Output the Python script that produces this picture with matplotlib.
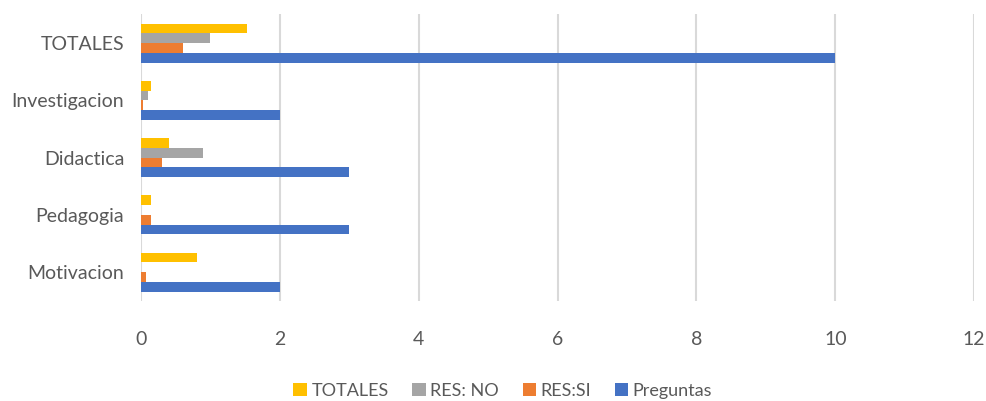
import numpy as np
import matplotlib
matplotlib.use("Agg")
import matplotlib.pyplot as plt

categories = ["Motivacion", "Pedagogia", "Didactica", "Investigacion", "TOTALES"]
preguntas = [2, 3, 3, 2, 10]
res_si = [0.07, 0.15, 0.3, 0.03, 0.6]
res_no = [0, 0, 0.9, 0.1, 1.0]
totales = [0.8, 0.15, 0.4, 0.15, 1.52]

series = [
    ("Preguntas", preguntas, "#4472C4"),
    ("RES:SI", res_si, "#ED7D31"),
    ("RES: NO", res_no, "#A5A5A5"),
    ("TOTALES", totales, "#FFC000"),
]

plt.rcParams["font.family"] = ["Lato", "DejaVu Sans"]
text_color = "#595959"

fig = plt.figure(figsize=(9.86, 4.01), dpi=100)
ax = fig.add_axes([0.143, 0.25, 0.845, 0.714])

y = np.arange(len(categories))
h = 0.17
for i, (name, vals, color) in enumerate(series):
    ax.barh(y + (i - 1.5) * h, vals, height=h, color=color, label=name, zorder=3)

ax.set_xlim(0, 12)
ax.set_ylim(-0.5, len(categories) - 0.5)
ax.set_xticks(range(0, 13, 2))
ax.set_yticks(y)
ax.set_yticklabels(categories)
ax.tick_params(axis="both", length=0, colors=text_color, labelsize=14)
ax.tick_params(axis="x", pad=22)
ax.tick_params(axis="y", pad=12)
ax.grid(axis="x", color="#D9D9D9", linewidth=1.5, zorder=0)
for s in ax.spines.values():
    s.set_visible(False)

handles, labels = ax.get_legend_handles_labels()
fig.legend(handles[::-1], labels[::-1], loc="lower center", ncol=4,
           bbox_to_anchor=(0.51, -0.035), frameon=False, fontsize=13,
           labelcolor=text_color, handlelength=0.75, handleheight=0.75,
           handletextpad=0.25, columnspacing=1.3)

fig.savefig("out.png", dpi=100, facecolor="white")
